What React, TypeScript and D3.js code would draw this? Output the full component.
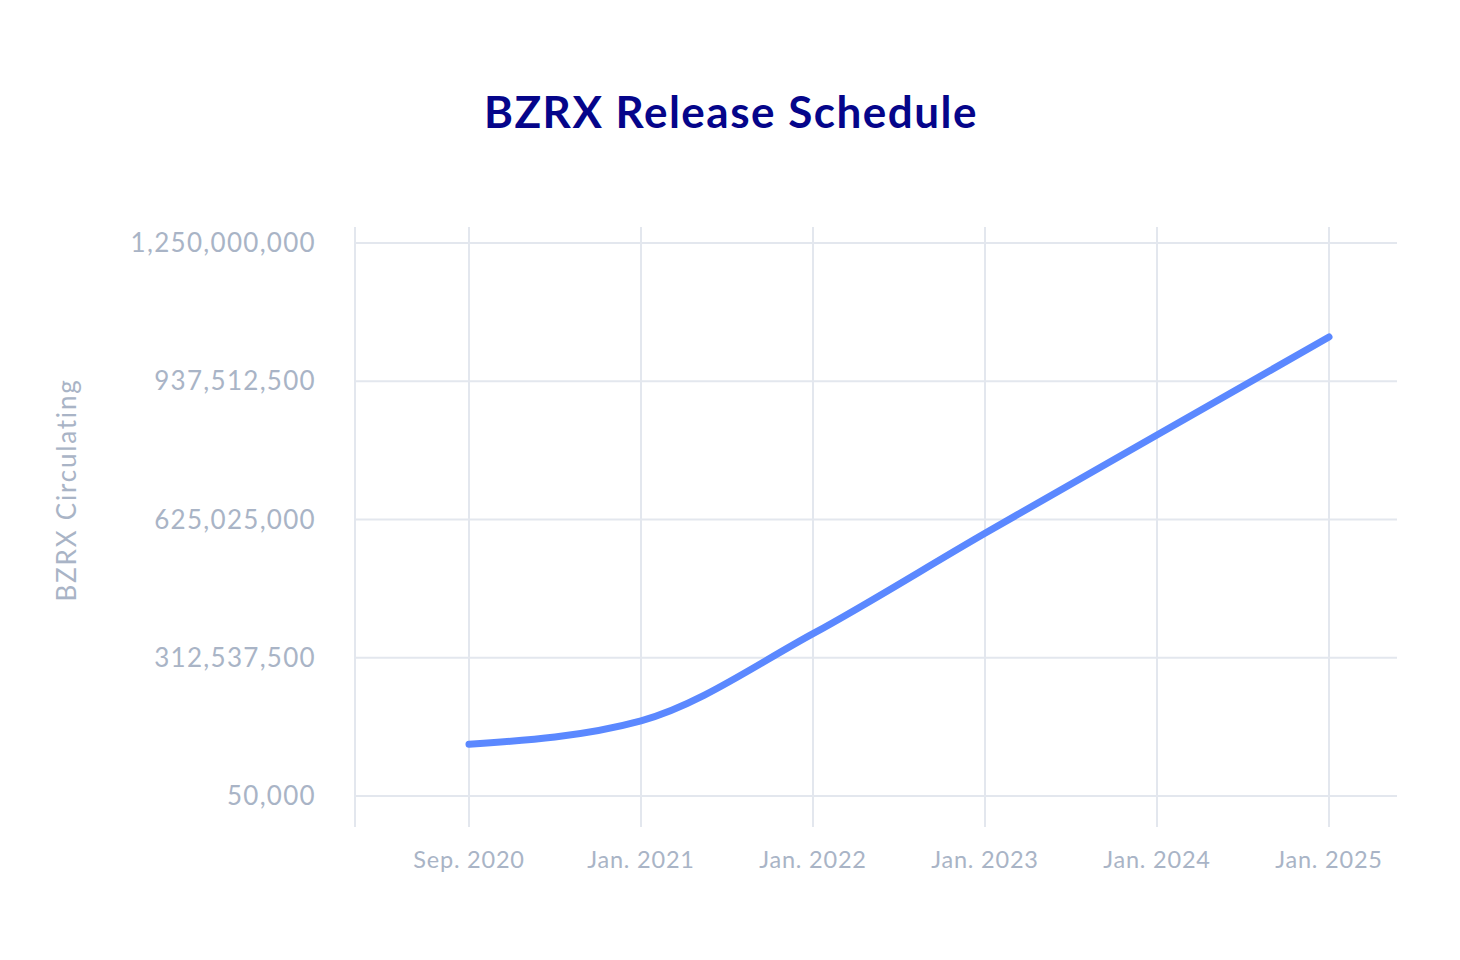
import React from "react";
import * as d3 from "d3";

const categories = ["Sep. 2020", "Jan. 2021", "Jan. 2022", "Jan. 2023", "Jan. 2024", "Jan. 2025"];
const circulating = [117000000, 170000000, 367000000, 594000000, 816000000, 1037500000];
const yTicks = [50000, 312537500, 625025000, 937512500, 1250000000];

const W = 1460;
const H = 960;
const plot = { left: 355, right: 1397, top: 227, bottom: 827 };
const FONT = "Lato, 'Noto Sans', sans-serif";
const GRID = "#E3E7EE";
const TEXT = "#A9B4C6";

export default function App() {
  const x = d3.scalePoint<string>().domain(categories).range([469, 1329]);
  const y = d3.scaleLinear().domain([50000, 1250000000]).range([796, 243]);
  const fmt = d3.format(",");
  const line = d3
    .line<number>()
    .x((_, i) => x(categories[i]) as number)
    .y((d) => y(d))
    .curve(d3.curveMonotoneX);

  return (
    <svg
      width={W}
      height={H}
      style={{ position: "absolute", left: 0, top: 0, background: "#fff" }}
      fontFamily={FONT}
    >
      <rect width={W} height={H} fill="#fff" />
      <text
        x={731}
        y={128}
        textAnchor="middle"
        fontSize={44}
        fontWeight={700}
        letterSpacing={1.5}
        fill="#05058A"
      >
        BZRX Release Schedule
      </text>
      {/* vertical grid */}
      <line x1={plot.left} x2={plot.left} y1={plot.top} y2={plot.bottom} stroke={GRID} strokeWidth={2} />
      {categories.map((c) => (
        <line key={c} x1={x(c)} x2={x(c)} y1={plot.top} y2={plot.bottom} stroke={GRID} strokeWidth={2} />
      ))}
      {/* horizontal grid */}
      {yTicks.map((t) => (
        <line key={t} x1={plot.left} x2={plot.right} y1={y(t)} y2={y(t)} stroke={GRID} strokeWidth={2} />
      ))}
      {yTicks.map((t) => (
        <text
          key={"l" + t}
          x={316}
          y={y(t)}
          dy="0.35em"
          textAnchor="end"
          fontSize={26}
          letterSpacing={1.3}
          fill={TEXT}
        >
          {fmt(t)}
        </text>
      ))}
      {categories.map((c) => (
        <text
          key={"c" + c}
          x={x(c)}
          y={860}
          dy="0.35em"
          textAnchor="middle"
          fontSize={23.5}
          letterSpacing={0.8}
          fill={TEXT}
        >
          {c}
        </text>
      ))}
      <text
        transform={`translate(67,490) rotate(-90)`}
        textAnchor="middle"
        dy="0.35em"
        fontSize={26}
        letterSpacing={1.8}
        fill={TEXT}
      >
        BZRX Circulating
      </text>
      <path
        d={line(circulating) || ""}
        fill="none"
        stroke="#5B88FF"
        strokeWidth={7}
        strokeLinecap="round"
        strokeLinejoin="round"
      />
    </svg>
  );
}
